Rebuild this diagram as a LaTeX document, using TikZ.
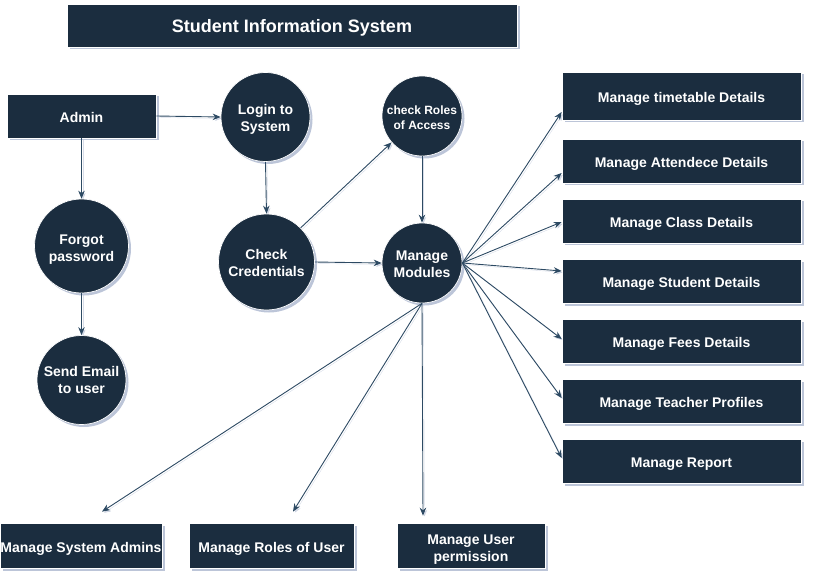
\documentclass[tikz,border=0pt]{standalone}
\usepackage{fontspec}
\setmainfont{Liberation Sans}
\usetikzlibrary{shadows,arrows.meta,calc}
\definecolor{navy}{HTML}{1B2D3F}
\definecolor{edgecol}{HTML}{2D4A63}
\definecolor{shade}{HTML}{BCC5D8}

% centred text block, set a little below the middle of its shape
\newcommand\lbl[2][3pt]{\raisebox{-#1}[\height][\depth]{\begin{tabular}{@{}c@{}}#2\end{tabular}}}

\begin{document}
\begin{tikzpicture}[x=1pt,y=-1pt,
  base/.style={draw=white, line width=0.7pt, fill=navy, text=white, inner sep=0pt,
    font=\bfseries\fontsize{14}{17}\selectfont,
    drop shadow={shadow xshift=2.5pt, shadow yshift=-2.5pt, fill=shade, opacity=1}},
  box/.style={base, rectangle, minimum height=44pt},
  proc/.style={base, circle},
  flow/.style={draw=edgecol, line width=0.9pt, -{Stealth[length=8pt,width=6.5pt]},
    preaction={draw=shade, opacity=0.6, transform canvas={shift={(1.5pt,-1.5pt)}}}},
]
\useasboundingbox (0,0) rectangle (814,588);

% title bar
\node[box, minimum width=450pt, minimum height=43pt, font=\bfseries\fontsize{18}{21}\selectfont]
  (title) at (292,25.5) {\lbl[3pt]{Student Information System}};

% actor and process flow
\node[box, minimum width=149pt] (admin) at (81.5,116) {\lbl[3pt]{Admin}};
\node[proc, minimum size=89pt] (login) at (265.5,117) {\lbl[3pt]{Login to\\System}};
\node[proc, minimum size=96pt] (cred) at (266.5,262) {\lbl[3pt]{Check\\Credentials}};
\node[proc, minimum size=94pt] (forgot) at (81.5,246) {\lbl[4pt]{Forgot\\password}};
\node[proc, minimum size=89pt] (email) at (81.5,380) {\lbl[2pt]{Send Email\\to user}};
\node[proc, minimum size=80pt, font=\bfseries\fontsize{12}{15.5}\selectfont] (roles) at (422,116) {\lbl[3pt]{check Roles\\of Access}};
\node[proc, minimum size=80pt] (mod) at (422,263) {\lbl[3pt]{Manage\\Modules}};

% management modules on the right
\node[box, minimum width=239pt, minimum height=48pt] (tt) at (681.5,96) {\lbl{Manage timetable Details}};
\node[box, minimum width=239pt] (att) at (681.5,161) {\lbl{Manage Attendece Details}};
\node[box, minimum width=239pt] (cls) at (681.5,221) {\lbl{Manage Class Details}};
\node[box, minimum width=239pt] (stu) at (681.5,281) {\lbl{Manage Student Details}};
\node[box, minimum width=239pt] (fee) at (681.5,341) {\lbl{Manage Fees Details}};
\node[box, minimum width=239pt] (tch) at (681.5,401) {\lbl{Manage Teacher Profiles}};
\node[box, minimum width=239pt] (rep) at (681.5,461) {\lbl{Manage Report}};

% management modules at the bottom
\node[box, minimum width=162pt, minimum height=45pt] (sysad) at (81,545.5) {\lbl[3.5pt]{Manage System Admins}};
\node[box, minimum width=165pt, minimum height=45pt] (urole) at (271.5,545.5) {\lbl[3.5pt]{Manage Roles of User}};
\node[box, minimum width=148pt, minimum height=45pt] (uperm) at (471,545.5) {\lbl[4.5pt]{Manage User\\permission}};

\coordinate (sysadIn) at ([xshift=21pt,yshift=11pt]sysad.north);
\coordinate (uroleIn) at ([xshift=21.5pt,yshift=11pt]urole.north);
\coordinate (upermIn) at ([xshift=-48pt,yshift=7pt]uperm.north);

% connectors
\draw[flow] (admin.east) -- (login.west);
\draw[flow] (admin.south) -- (forgot.north);
\draw[flow] (forgot.south) -- (email.north);
\draw[flow] (login.south) -- (cred.north);
\draw[flow] (cred.east) -- (mod.west);
\draw[flow] (cred.45) -- (roles.221);
\draw[flow] (roles.south) -- (mod.north);

\draw[flow] (mod.east) -- ([yshift=-16pt]tt.west);
\draw[flow] (mod.east) -- ([yshift=-12pt]att.west);
\draw[flow] (mod.east) -- ([yshift=-1pt]cls.west);
\draw[flow] (mod.east) -- ([yshift=10pt]stu.west);
\draw[flow] (mod.east) -- ([yshift=2pt]fee.west);
\draw[flow] (mod.east) -- ([yshift=3pt]tch.west);
\draw[flow] (mod.east) -- ([yshift=3pt]rep.west);

\draw[flow] (mod.south) -- (sysadIn);
\draw[flow] (mod.south) -- (uroleIn);
\draw[flow] (mod.south) -- (upermIn);
\end{tikzpicture}
\end{document}
